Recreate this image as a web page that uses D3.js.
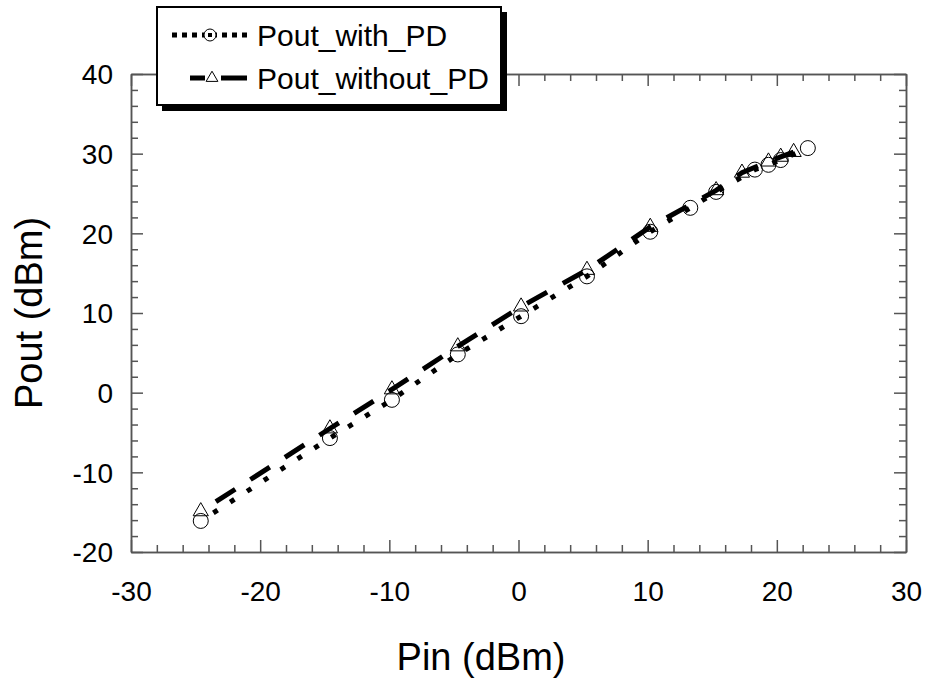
<!DOCTYPE html>
<html>
<head>
<meta charset="utf-8">
<script src="https://cdn.jsdelivr.net/npm/d3@7"></script>
<style>
  body { margin: 0; background: #fff; }
  text { font-family: Arial, "Liberation Sans", sans-serif; fill: #000; }
  .axis path, .axis line { stroke: #555; stroke-width: 1.5; }
</style>
</head>
<body>
<script>
// data
var pinWith   = [-24.6, -14.6, -9.8, -4.7, 0.2, 5.3, 10.2, 13.3, 15.3, 18.3, 19.35, 20.3, 22.4],
    poutWith  = [-16.1, -5.7, -0.9, 4.8, 9.6, 14.6, 20.2, 23.2, 25.2, 28.0, 28.6, 29.2, 30.7];
var pinWithout  = [-24.6, -14.6, -9.8, -4.7, 0.2, 5.3, 10.2, 15.3, 17.3, 19.35, 20.3, 21.3],
    poutWithout = [-14.9, -4.5, 0.4, 5.8, 10.8, 15.4, 20.8, 25.4, 27.6, 29.0, 29.6, 30.2];
var seriesNames = ["Pout_with_PD", "Pout_without_PD"];
var xMajor = [-30, -20, -10, 0, 10, 20, 30],
    yMajor = [-20, -10, 0, 10, 20, 30, 40];

var W = 927, H = 681;
var m = {top: 74, right: 21, bottom: 129, left: 131};

var x = d3.scaleLinear().domain([-30, 30]).range([m.left, W - m.right]),
    y = d3.scaleLinear().domain([-20, 40]).range([H - m.bottom, m.top]);

var xMinor = d3.range(-30, 30.01, 2).filter(function(v){ return xMajor.indexOf(v) < 0; }),
    yMinor = d3.range(-20, 40.01, 2).filter(function(v){ return yMajor.indexOf(v) < 0; });

var svg = d3.select("body").append("svg")
    .attr("width", W)
    .attr("height", H);

// axes on all four sides, ticks pointing inwards
function addAxis(gen, tx, ty, vals, size, labels) {
  var g = svg.append("g")
      .attr("class", "axis")
      .attr("transform", "translate(" + tx + "," + ty + ")")
      .call(gen.tickValues(vals).tickSize(-size).tickSizeOuter(0)
        .tickFormat(labels ? function(d){ return String(d); } : ""));
  return g;
}

var x0 = y.range()[0], y0 = x.range()[0];
var bottom = addAxis(d3.axisBottom(x), 0, x0, xMajor, 12, true);
addAxis(d3.axisBottom(x), 0, x0, xMinor, 7, false);
addAxis(d3.axisTop(x), 0, m.top, xMajor, 12, false);
addAxis(d3.axisTop(x), 0, m.top, xMinor, 7, false);
var left = addAxis(d3.axisLeft(y), y0, 0, yMajor, 12, true);
addAxis(d3.axisLeft(y), y0, 0, yMinor, 7, false);
addAxis(d3.axisRight(y), W - m.right, 0, yMajor, 12, false);
addAxis(d3.axisRight(y), W - m.right, 0, yMinor, 7, false);

bottom.selectAll("text")
    .attr("y", 29).attr("dy", "0.71em")
    .style("font-size", "28px").style("font-family", "Arial, 'Liberation Sans', sans-serif");
left.selectAll("text")
    .attr("x", -18).attr("dy", "0.35em")
    .style("font-size", "28px").style("font-family", "Arial, 'Liberation Sans', sans-serif");

// axis titles
svg.append("text")
    .attr("x", 481)
    .attr("y", 670)
    .attr("text-anchor", "middle")
    .style("font-size", "38px")
    .text("Pin (dBm)");

svg.append("text")
    .attr("transform", "translate(42,313) rotate(-90)")
    .attr("text-anchor", "middle")
    .style("font-size", "38px")
    .text("Pout (dBm)");

// lines
var line = d3.line()
    .x(function(d){ return x(d[0]); })
    .y(function(d){ return y(d[1]); });

var withPts = d3.zip(pinWith, poutWith),
    withoutPts = d3.zip(pinWithout, poutWithout);

svg.append("path")
    .datum(withPts)
    .attr("d", line)
    .attr("fill", "none")
    .attr("stroke", "#000")
    .attr("stroke-width", 5)
    .attr("stroke-dasharray", "0,15,5,0");

svg.append("path")
    .datum(withoutPts)
    .attr("d", line)
    .attr("fill", "none")
    .attr("stroke", "#000")
    .attr("stroke-width", 5)
    .attr("stroke-dasharray", "0,18,23,0");

// markers
var tri = d3.symbol().type(d3.symbolTriangle).size(100);

svg.append("g").selectAll("circle")
    .data(withPts)
  .enter().append("circle")
    .attr("cx", function(d){ return x(d[0]); })
    .attr("cy", function(d){ return y(d[1]); })
    .attr("r", 7.5)
    .attr("fill", "none")
    .attr("stroke", "#000")
    .attr("stroke-width", 1);

svg.append("g").selectAll("path")
    .data(withoutPts)
  .enter().append("path")
    .attr("d", tri)
    .attr("transform", function(d){ return "translate(" + x(d[0]) + "," + y(d[1]) + ")"; })
    .attr("fill", "none")
    .attr("stroke", "#000")
    .attr("stroke-width", 1);

// legend
var lg = svg.append("g").attr("transform", "translate(157,7)");
lg.append("rect").attr("x", 5).attr("y", 5).attr("width", 345).attr("height", 99).attr("fill", "#000");
lg.append("rect").attr("width", 344).attr("height", 98)
    .attr("fill", "#fff").attr("stroke", "#000").attr("stroke-width", 2);

var rows = lg.selectAll(".row")
    .data(seriesNames)
  .enter().append("g")
    .attr("class", "row")
    .attr("transform", function(d, i){ return "translate(0," + (28 + i * 43) + ")"; });

rows.append("line")
    .attr("x1", function(d, i){ return i === 0 ? 15 : 33; })
    .attr("x2", 90)
    .attr("stroke", "#000").attr("stroke-width", 5)
    .attr("stroke-dasharray", function(d, i){ return i === 0 ? "5,5" : null; });

rows.filter(function(d, i){ return i === 0; }).append("circle")
    .attr("cx", 53).attr("r", 6)
    .attr("fill", "#fff").attr("stroke", "#000").attr("stroke-width", 1);
rows.filter(function(d, i){ return i === 0; }).append("rect")
    .attr("x", 51).attr("y", -2).attr("width", 4).attr("height", 4).attr("fill", "#000");

rows.filter(function(d, i){ return i === 1; }).append("rect")
    .attr("x", 48).attr("y", -4).attr("width", 16).attr("height", 8).attr("fill", "#fff");
rows.filter(function(d, i){ return i === 1; }).append("path")
    .attr("d", d3.symbol().type(d3.symbolTriangle).size(60))
    .attr("transform", "translate(55,0)")
    .attr("fill", "#fff").attr("stroke", "#000").attr("stroke-width", 1);

rows.append("text")
    .attr("x", 100)
    .attr("dy", "0.35em")
    .style("font-size", "30px")
    .text(function(d){ return d; });
</script>
</body>
</html>
